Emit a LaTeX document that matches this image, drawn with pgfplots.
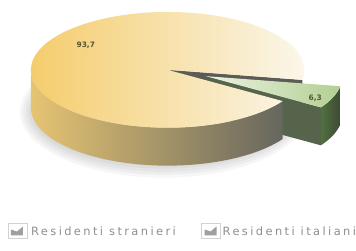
\documentclass[border=0pt]{standalone}
\usepackage{pgfplots}
\pgfplotsset{compat=1.18}
\usepackage{pgfplotstable}
\usepackage{fontspec}
\setmainfont{DejaVu Sans}
\newfontfamily\legfont[LetterSpace=21]{DejaVu Sans}

\definecolor{ytopL}{HTML}{F4CB68}
\definecolor{ytopM}{HTML}{F9E8BC}
\definecolor{ytopR}{HTML}{FBF8EF}
\definecolor{ywallL}{HTML}{E6C472}
\definecolor{ywallM}{HTML}{CFC9AF}
\definecolor{ywallR}{HTML}{66665E}
\definecolor{cutgray}{HTML}{5C5C56}
\definecolor{gtopL}{HTML}{ECF3E2}
\definecolor{gtopR}{HTML}{B2CF93}
\definecolor{gwallL}{HTML}{52703F}
\definecolor{gwallR}{HTML}{3C4935}
\definecolor{gcut}{HTML}{56644C}
\definecolor{labcol}{HTML}{5A5534}
\definecolor{legcol}{HTML}{8E8E8E}

\pgfplotstableread{
name value
italiani 93.7
stranieri 6.3
}\pietable

\begin{document}
\begin{tikzpicture}
\pgfplotstablegetelem{0}{value}\of\pietable \let\va\pgfplotsretval
\pgfplotstablegetelem{1}{value}\of\pietable \let\vb\pgfplotsretval
\pgfmathsetmacro\aS{-10}
\pgfmathsetmacro\aE{\aS-\vb*3.6}
\pgfmathsetmacro\aM{(\aS+\aE)/2}
\pgfmathsetmacro\aY{\aE+360}
\def\cx{168}\def\cy{181}\def\rx{137}\def\ry{58}\def\dep{38}
\def\rxd{137bp}\def\ryd{58bp}\def\depd{38bp}
\pgfmathsetmacro\gx{\cx+0.3*\rx*cos(\aM)}
\pgfmathsetmacro\gy{\cy+0.3*\ry*sin(\aM)}
\begin{axis}[x=1bp,y=1bp,xmin=0,xmax=356,ymin=0,ymax=251,hide axis,clip=false,scale only axis]
\path (axis cs:0,0) rectangle (axis cs:356,251);
% soft shadow
\fill[black,opacity=0.035] (axis cs:164,139) ellipse [x radius=144bp, y radius=66bp];
\fill[black,opacity=0.035] (axis cs:164,139) ellipse [x radius=141bp, y radius=63bp];
\fill[black,opacity=0.035] (axis cs:164,139) ellipse [x radius=138bp, y radius=60bp];
\fill[black,opacity=0.035] (axis cs:164,139) ellipse [x radius=135bp, y radius=57bp];
\fill[black,opacity=0.035] (axis cs:164,139) ellipse [x radius=132bp, y radius=54bp];
% yellow cut face
\fill[cutgray] (axis cs:\cx,\cy) -- (axis cs:{\cx+\rx*cos(\aS)},{\cy+\ry*sin(\aS)}) -- ++(0,-\depd) -- (axis cs:\cx,{\cy-\dep}) -- cycle;
% green cut face
\fill[gcut] (axis cs:\gx,\gy) -- (axis cs:{\gx+\rx*cos(\aE)},{\gy+\ry*sin(\aE)}) -- ++(0,-\depd) -- (axis cs:\gx,{\gy-\dep}) -- cycle;
% green wall
\path[left color=gwallL, right color=gwallR]
  (axis cs:{\gx+\rx*cos(\aE)},{\gy+\ry*sin(\aE)}) arc[start angle=\aE, end angle=\aS, x radius=\rxd, y radius=\ryd]
  -- ++(0,-\depd) arc[start angle=\aS, end angle=\aE, x radius=\rxd, y radius=\ryd] -- cycle;
% green top
\path[left color=gtopL, right color=gtopR]
  (axis cs:\gx,\gy) -- (axis cs:{\gx+\rx*cos(\aE)},{\gy+\ry*sin(\aE)})
  arc[start angle=\aE, end angle=\aS, x radius=\rxd, y radius=\ryd] -- cycle;
% yellow wall
\path[left color=ywallL, middle color=ywallM, right color=ywallR]
  (axis cs:{\cx-\rx},\cy) arc[start angle=180, end angle=\aY, x radius=\rxd, y radius=\ryd]
  -- ++(0,-\depd) arc[start angle=\aY, end angle=180, x radius=\rxd, y radius=\ryd] -- cycle;
% yellow top
\path[left color=ytopL, middle color=ytopM, right color=ytopR]
  (axis cs:\cx,\cy) -- (axis cs:{\cx+\rx*cos(\aS)},{\cy+\ry*sin(\aS)})
  arc[start angle=\aS, end angle=\aY, x radius=\rxd, y radius=\ryd] -- cycle;
% labels
\node[font=\fontsize{7.5}{8}\selectfont\bfseries, text=labcol] at (axis cs:86,206) {93,7};
\node[font=\fontsize{7.5}{8}\selectfont\bfseries, text=labcol] at (axis cs:316,153) {6,3};
% legend
\draw[gray!35, line width=0.6pt] (axis cs:8,12) rectangle (axis cs:27,27);
\fill[gray!75] (axis cs:11,15) -- (axis cs:11,21) -- (axis cs:17,19) -- (axis cs:23,24) -- (axis cs:23,15) -- cycle;
\draw[gray!35, line width=0.6pt] (axis cs:202,12) rectangle (axis cs:221,27);
\fill[gray!75] (axis cs:205,15) -- (axis cs:205,21) -- (axis cs:211,19) -- (axis cs:217,24) -- (axis cs:217,15) -- cycle;
\node[anchor=west, inner sep=0pt, text=legcol, font=\legfont\fontsize{11.5}{13}\selectfont] at (axis cs:31,19) {Residenti stranieri};
\node[anchor=west, inner sep=0pt, text=legcol, font=\legfont\fontsize{11.5}{13}\selectfont] at (axis cs:223,19) {Residenti italiani};
\end{axis}
\end{tikzpicture}
\end{document}
